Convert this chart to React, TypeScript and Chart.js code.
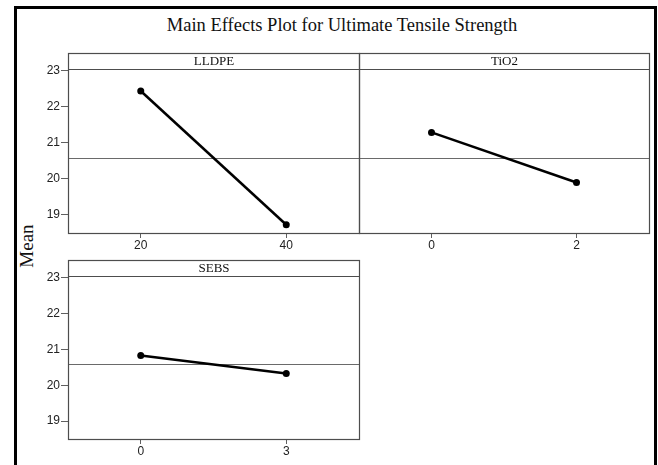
import React, { useEffect, useRef } from "react";
import { Chart, registerables } from "chart.js";

Chart.register(...registerables);

const TITLE = "Main Effects Plot for Ultimate Tensile Strength";
const Y_LABEL = "Mean";

const LLDPE_LEVELS = ["20", "40"];
const LLDPE_MEANS = [22.44, 18.73];

const TIO2_LEVELS = ["0", "2"];
const TIO2_MEANS = [21.29, 19.9];

const SEBS_LEVELS = ["0", "3"];
const SEBS_MEANS = [20.83, 20.33];

const GRAND_MEAN = 20.58;
const Y_TICKS = [19, 20, 21, 22, 23];
const Y_MIN = 18.5;
const Y_MAX = 23.05;

const W = 658;
const H = 465;
const STRIP_H = 16;
const FRAME = "#4d4d4d";
const TICK_FONT = { family: "'Liberation Sans', Arial, sans-serif", size: 12 };

type Box = { left: number; right: number; top: number; bottom: number };

function Panel(props: {
  factor: string;
  levels: string[];
  means: number[];
  box: Box;
  showY: boolean;
}) {
  const ref = useRef<HTMLCanvasElement | null>(null);
  useEffect(() => {
    const { factor, levels, means, box, showY } = props;
    const yw = showY ? 40 : 0;
    const xh = 25;
    const panelPlugin = {
      id: "panelDeco",
      beforeDatasetsDraw(chart: any) {
        const { ctx, chartArea } = chart;
        const y = Math.round(chart.scales.y.getPixelForValue(GRAND_MEAN)) + 0.5;
        ctx.save();
        ctx.strokeStyle = "#6a6a6a";
        ctx.lineWidth = 1;
        ctx.beginPath();
        ctx.moveTo(chartArea.left, y);
        ctx.lineTo(chartArea.right, y);
        ctx.stroke();
        ctx.restore();
      },
      afterDraw(chart: any) {
        const { ctx, chartArea } = chart;
        const l = Math.round(chartArea.left) + 0.5;
        const r = Math.round(chartArea.right) + 0.5;
        const t = Math.round(chartArea.top) + 0.5;
        const b = Math.round(chartArea.bottom) + 0.5;
        const st = t - STRIP_H;
        ctx.save();
        ctx.strokeStyle = FRAME;
        ctx.lineWidth = 1.2;
        ctx.strokeRect(l, st, r - l, b - st);
        ctx.beginPath();
        ctx.moveTo(l, t);
        ctx.lineTo(r, t);
        ctx.stroke();
        ctx.fillStyle = "#111";
        ctx.font = "13px 'Liberation Serif', 'Times New Roman', serif";
        ctx.textAlign = "center";
        ctx.textBaseline = "middle";
        ctx.fillText(factor, (l + r) / 2, st + STRIP_H / 2 + 0.5);
        ctx.restore();
      },
    };
    const chart = new Chart(ref.current as HTMLCanvasElement, {
      type: "line",
      data: {
        labels: levels,
        datasets: [
          {
            data: means,
            borderColor: "#000",
            borderWidth: 2.5,
            pointRadius: 3.5,
            pointBackgroundColor: "#000",
            pointBorderColor: "#000",
            pointBorderWidth: 0,
            tension: 0,
          },
        ],
      },
      options: {
        responsive: false,
        animation: false,
        devicePixelRatio: 1,
        events: [],
        layout: {
          padding: {
            left: box.left - yw,
            top: box.top,
            right: W - box.right,
            bottom: H - box.bottom - xh,
          },
        },
        plugins: {
          legend: { display: false },
          tooltip: { enabled: false },
          title: { display: false },
        },
        scales: {
          x: {
            type: "category",
            offset: true,
            grid: {
              display: true,
              drawOnChartArea: false,
              drawTicks: true,
              tickLength: 5,
              color: "#606060",
            },
            border: { display: false },
            ticks: { font: TICK_FONT, color: "#222", padding: 0, maxRotation: 0 },
            afterFit: (s: any) => {
              s.height = xh;
            },
          },
          y: {
            display: showY,
            min: Y_MIN,
            max: Y_MAX,
            afterBuildTicks: (s: any) => {
              s.ticks = Y_TICKS.map((v) => ({ value: v }));
            },
            grid: {
              display: true,
              drawOnChartArea: false,
              drawTicks: true,
              tickLength: 7,
              color: "#606060",
            },
            border: { display: false },
            ticks: { font: TICK_FONT, color: "#222", padding: 1 },
            afterFit: (s: any) => {
              s.width = yw;
            },
          },
        },
      },
      plugins: [panelPlugin],
    } as any);
    return () => chart.destroy();
  }, []);
  return (
    <canvas
      ref={ref}
      width={W}
      height={H}
      style={{ position: "absolute", left: 0, top: 0, width: W, height: H }}
    />
  );
}

export default function App() {
  return (
    <div
      style={{
        position: "absolute",
        left: 0,
        top: 0,
        width: W,
        height: H,
        overflow: "hidden",
        background: "#fff",
      }}
    >
      <div
        style={{
          position: "absolute",
          left: 14,
          top: 6,
          width: 637,
          height: 480,
          borderTop: "3px solid #000",
          borderLeft: "3px solid #000",
          borderRight: "3px solid #000",
        }}
      />
      <div
        style={{
          position: "absolute",
          left: 92,
          top: 16,
          width: 500,
          lineHeight: "19px",
          textAlign: "center",
          fontFamily: "'Liberation Serif', 'Times New Roman', serif",
          fontSize: 18.5,
          color: "#111",
          whiteSpace: "nowrap",
        }}
      >
        {TITLE}
      </div>
      <div
        style={{
          position: "absolute",
          left: -3,
          top: 236,
          width: 60,
          height: 20,
          lineHeight: "20px",
          textAlign: "center",
          fontFamily: "'Liberation Serif', 'Times New Roman', serif",
          fontSize: 19,
          color: "#111",
          transform: "rotate(-90deg)",
        }}
      >
        {Y_LABEL}
      </div>
      <Panel
        factor="LLDPE"
        levels={LLDPE_LEVELS}
        means={LLDPE_MEANS}
        box={{ left: 68, right: 359, top: 69, bottom: 233 }}
        showY={true}
      />
      <Panel
        factor="TiO2"
        levels={TIO2_LEVELS}
        means={TIO2_MEANS}
        box={{ left: 359, right: 649, top: 69, bottom: 233 }}
        showY={false}
      />
      <Panel
        factor="SEBS"
        levels={SEBS_LEVELS}
        means={SEBS_MEANS}
        box={{ left: 68, right: 359, top: 276, bottom: 439 }}
        showY={true}
      />
    </div>
  );
}
